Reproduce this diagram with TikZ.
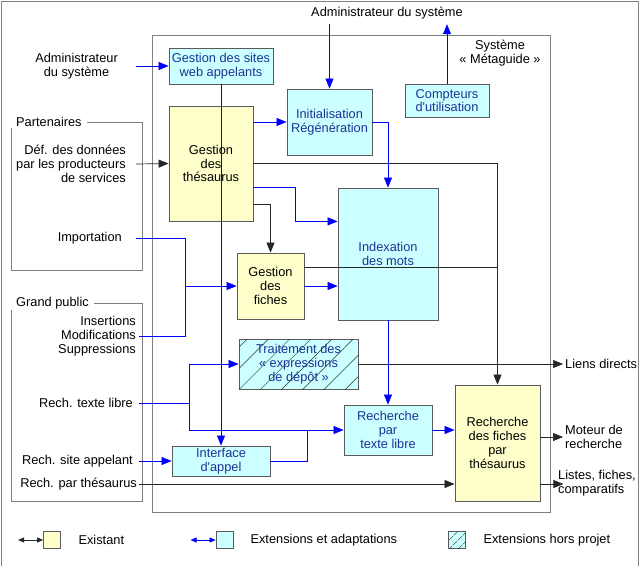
\documentclass[tikz,border=0pt]{standalone}
\usepackage{fontspec}
\newfontfamily\lsans{Liberation Sans}
\usetikzlibrary{arrows.meta,patterns.meta}
\definecolor{cyanbox}{RGB}{204,255,255}
\definecolor{yelbox}{RGB}{255,255,204}
\definecolor{boxline}{RGB}{90,90,90}
\definecolor{frameline}{RGB}{128,128,128}
\definecolor{exttext}{RGB}{30,50,150}
\definecolor{extline}{RGB}{0,0,255}

\begin{document}
\begin{tikzpicture}[x=1pt,y=-1pt,font=\lsans\fontsize{12.8}{13.8}\selectfont,
  oldbox/.style={draw=boxline, fill=yelbox, line width=0.8pt, inner sep=0pt, align=center},
  extbox/.style={draw=boxline, fill=cyanbox, text=exttext, line width=0.8pt, inner sep=0pt, align=center},
  hatch/.style={postaction={pattern={Lines[angle=45,distance=#1,line width=0.5pt]}, pattern color=black!80}},
  lab/.style={align=right, anchor=east},
  oldarr/.style={draw=black!85, line width=0.7pt, -{Triangle[length=10pt,width=8pt]}},
  extarr/.style={draw=extline, line width=0.6pt, -{Triangle[length=10pt,width=8pt]}},
  frame/.style={draw=frameline, line width=0.8pt},
  tag/.style={fill=white, anchor=west, inner ysep=1pt}]
\useasboundingbox (0,0) rectangle (642,565);
\draw[frame] (1,566) -- (1,1) -- (638,1) -- (638,566);

% groupes d'acteurs et systeme
\draw[frame] (11,122) rectangle (142,270);
\draw[frame] (11,303) rectangle (142,501);
\draw[frame] (152,35) rectangle (550,512);
\node[tag, inner xsep=5pt] (partT) at (11,122) {Partenaires};
\node[tag, inner xsep=5pt] (gpT) at (11,303) {Grand public};
\node[align=center] (sysT) at (500,53) {Système\\« Métaguide »};

% modules
\node[extbox, minimum width=104pt, minimum height=36pt] (sites) at (221,66) {Gestion des sites\\web appelants};
\node[oldbox, minimum width=84pt, minimum height=115pt] (thes) at (211,163.5) {Gestion\\des\\thésaurus};
\node[extbox, minimum width=85pt, minimum height=66pt] (init) at (329.5,122) {Initialisation\\Régénération};
\node[extbox, minimum width=84pt, minimum height=33pt] (cpt) at (447,100.5) {Compteurs\\d'utilisation};
\node[extbox, minimum width=100pt, minimum height=132pt] (index) at (388,254) {Indexation\\des mots};
\node[oldbox, minimum width=67pt, minimum height=66pt] (fiches) at (270.5,286) {Gestion\\des\\fiches};
\node[extbox, hatch=15pt, minimum width=119pt, minimum height=50pt] (trait) at (298.5,364) {Traitement des\\« expressions\\de dépôt »};
\node[extbox, minimum width=88pt, minimum height=50pt] (rtl) at (388,430) {Recherche\\par\\texte libre};
\node[extbox, minimum width=98pt, minimum height=30pt] (iface) at (221,461) {Interface\\d'appel};
\node[oldbox, minimum width=85pt, minimum height=116pt] (rft) at (497.5,443) {Recherche\\des fiches\\par\\thésaurus};

% entrees et sorties
\node[inner xsep=3pt, inner ysep=5pt] (admT) at (387,13) {Administrateur du système};
\node[align=center, anchor=east, inner xsep=18pt] (admL) at (136,66) {Administrateur\\du système};
\node[lab, inner xsep=10pt] (def) at (136,164) {Déf. des données\\par les producteurs\\de services};
\node[lab, inner xsep=14pt] (imp) at (136,238) {Importation};
\node[lab, inner xsep=3pt] (ins) at (139,336) {Insertions\\Modifications\\Suppressions};
\node[lab, inner xsep=6pt] (txt) at (139,403) {Rech. texte libre};
\node[lab, inner xsep=6pt] (site) at (139,461) {Rech. site appelant};
\node[lab, inner xsep=2pt] (parthes) at (139,484) {Rech. par thésaurus};
\node[anchor=west, inner xsep=2pt] (liens) at (563,364) {Liens directs};
\node[anchor=west, align=left, inner xsep=2pt] (moteur) at (563,437) {Moteur de\\recherche};
\node[anchor=west, align=left, inner xsep=2pt] (listes) at (556,483) {Listes, fiches,\\comparatifs};
\coordinate (jImp) at (185,286);
\coordinate (jTxt) at (189,403);
\coordinate (jIf) at (307,430);

% liaisons existantes
\draw[oldarr] (def.east) -- (thes.west);
\draw[oldarr] (thes.east) -| (rft.north);
\draw[oldarr] ([yshift=-40.5pt]thes.east) -| (fiches.north);
\draw[black!85, line width=0.7pt] ([yshift=19pt]fiches.east) -- ([yshift=19pt]fiches.east -| rft.north);
\draw[oldarr] (parthes.east) -- (parthes.east -| rft.west);
\draw[oldarr] (trait.east) -- (liens.west);
\draw[oldarr] (moteur.west -| rft.east) -- (moteur.west);
\draw[oldarr] (rft.east |- parthes.east) -- ([xshift=23pt]rft.east |- parthes.east);

% extensions
\draw[extarr] (admL.east) -- (sites.west);
\draw[extarr] (sites.south) -- (iface.north);
\draw[extarr] (admT.south -| init.north) -- (init.north);
\draw[extarr] (cpt.north) -- (cpt.north |- admT.south);
\draw[extarr] (init.west -| thes.east) -- (init.west);
\draw[extarr] (init.east) -| (index.north);
\draw[extarr] (index.north -| thes.east) -- ++(42,0) |- (index.west |- thes.south);
\draw[extarr] (fiches.east) -- (fiches.east -| index.west);
\draw[extline, line width=0.6pt] (imp.east) -| (jImp);
\draw[extline, line width=0.6pt] (ins.east) -| (jImp);
\draw[extarr] (jImp) -- (fiches.west);
\draw[extarr] (index.south) -- (rtl.north);
\draw[extline, line width=0.6pt] (txt.east) -- (jTxt);
\draw[extarr] (jTxt) |- (trait.west);
\draw[extarr] (jTxt) |- (rtl.west);
\draw[extline, line width=0.6pt] (iface.east) -| (jIf);
\draw[extarr] (site.east) -- (iface.west);
\draw[extarr] (rtl.east) -- (rtl.east -| rft.west);

% legende
\node[oldbox, minimum size=17pt] (legOld) at (52,540) {};
\node[extbox, minimum size=17pt] (legExt) at (224.5,540) {};
\node[extbox, hatch=6.5pt, minimum size=17pt] (legHors) at (457,540) {};
\draw[black!85, line width=0.7pt, {Triangle[length=6pt,width=5pt]}-{Triangle[length=6pt,width=5pt]}] ([xshift=-25pt]legOld.west) -- (legOld.west);
\draw[extline, line width=0.6pt, {Triangle[length=6pt,width=5pt]}-{Triangle[length=6pt,width=5pt]}] ([xshift=-25pt]legExt.west) -- (legExt.west);
\node[anchor=west] (legOldT) at (75,540) {Existant};
\node[anchor=west] (legExtT) at (247,540) {Extensions et adaptations};
\node[anchor=west] (legHorsT) at (480,540) {Extensions hors projet};
\end{tikzpicture}
\end{document}
